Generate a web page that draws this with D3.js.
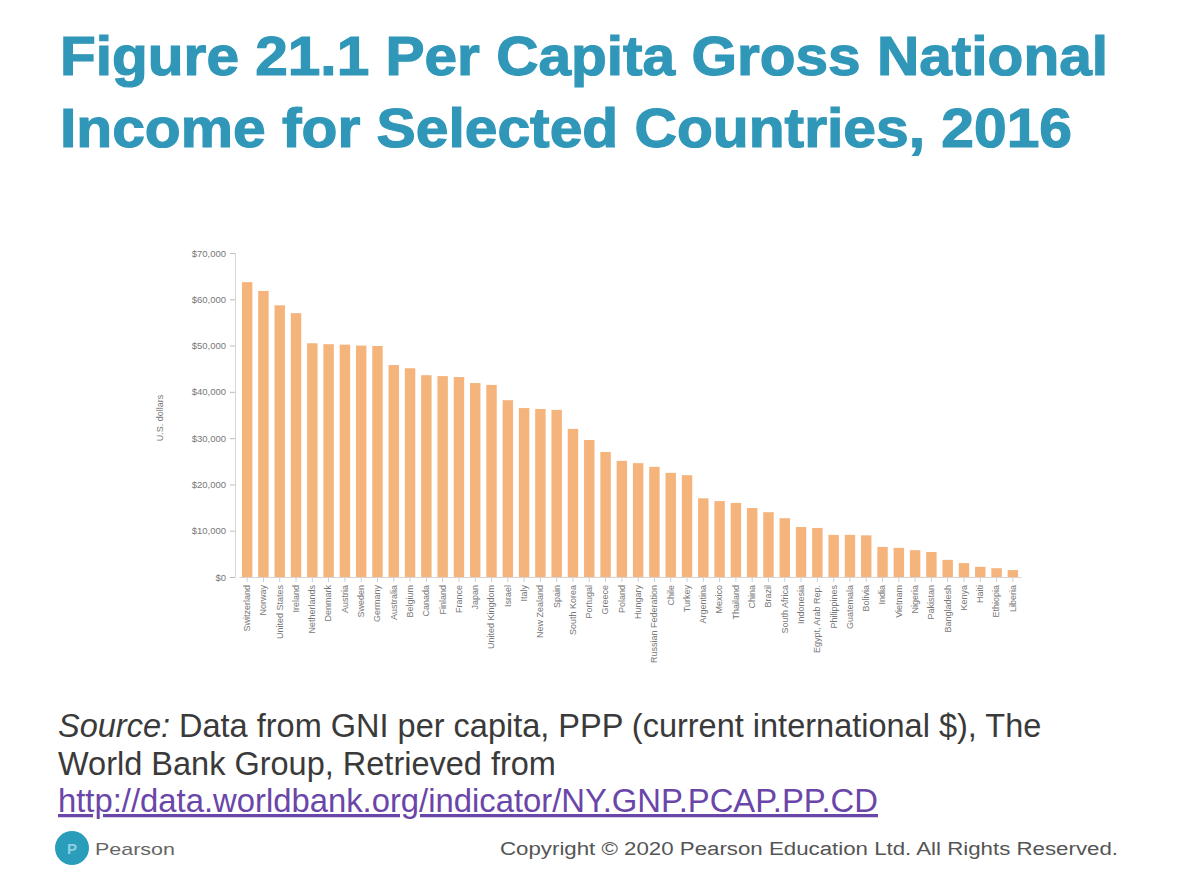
<!DOCTYPE html>
<html>
<head>
<meta charset="utf-8">
<script src="https://cdn.jsdelivr.net/npm/d3@7"></script>
<style>
  html, body { margin: 0; padding: 0; background: #fff; }
  svg { display: block; }
</style>
</head>
<body>
<svg id="chart" width="1180" height="885"></svg>
<script>
// ---- data ----
const countries = [
  "Switzerland", "Norway", "United States", "Ireland", "Netherlands", "Denmark",
  "Austria", "Sweden", "Germany", "Australia", "Belgium", "Canada",
  "Finland", "France", "Japan", "United Kingdom", "Israel", "Italy",
  "New Zealand", "Spain", "South Korea", "Portugal", "Greece", "Poland",
  "Hungary", "Russian Federation", "Chile", "Turkey", "Argentina", "Mexico",
  "Thailand", "China", "Brazil", "South Africa", "Indonesia", "Egypt, Arab Rep.",
  "Philippines", "Guatemala", "Bolivia", "India", "Vietnam", "Nigeria",
  "Pakistan", "Bangladesh", "Kenya", "Haiti", "Ethiopia", "Liberia"
];
const gniPerCapita = [
  63700, 61800, 58700, 57000, 50500, 50300,
  50200, 50000, 49900, 45800, 45100, 43600,
  43400, 43200, 41900, 41500, 38200, 36500,
  36300, 36100, 32000, 29600, 27000, 25100,
  24600, 23800, 22500, 22000, 17000, 16400,
  16000, 14900, 14000, 12700, 10800, 10600,
  9100, 9100, 9000, 6500, 6300, 5800,
  5400, 3700, 3000, 2200, 1900, 1500
];
const yTicks = [0, 10000, 20000, 30000, 40000, 50000, 60000, 70000];
const titleLines = ["Figure 21.1 Per Capita Gross National", "Income for Selected Countries, 2016"];
const sourceLines = ["Data from GNI per capita, PPP (current international $), The", "World Bank Group, Retrieved from"];
const sourceUrl = "http://data.worldbank.org/indicator/NY.GNP.PCAP.PP.CD";
const copyright = "Copyright \u00A9 2020 Pearson Education Ltd. All Rights Reserved.";

const data = countries.map((c, i) => ({ country: c, value: gniPerCapita[i] }));

const svg = d3.select("#chart");
const font = "'Liberation Sans', Arial, Helvetica, sans-serif";

// ---- title ----
const titleWidths = [1048, 1012];
svg.selectAll("text.title").data(titleLines).join("text")
  .attr("class", "title")
  .attr("x", 60)
  .attr("y", (d, i) => 75 + i * 72)
  .attr("font-family", font)
  .attr("font-weight", "bold")
  .attr("font-size", 55)
  .attr("fill", "#3097B8")
  .attr("stroke", "#3097B8")
  .attr("stroke-width", 1.2)
  .attr("textLength", (d, i) => titleWidths[i])
  .attr("lengthAdjust", "spacingAndGlyphs")
  .text(d => d);

// ---- chart ----
const x = d3.scaleBand()
  .domain(countries)
  .range([239, 1021])
  .paddingInner(0.36)
  .paddingOuter(0.18);

const y = d3.scaleLinear()
  .domain([0, 70000])
  .range([577, 253]);

const g = svg.append("g");

// y axis
const yAxis = d3.axisLeft(y)
  .tickValues(yTicks)
  .tickSize(5)
  .tickFormat(d => "$" + d3.format(",")(d));
const ya = g.append("g")
  .attr("transform", "translate(235,0)")
  .call(yAxis);
ya.select(".domain").attr("stroke", "#d6d6d6");
ya.selectAll(".tick line").attr("stroke", "#bdbdbd");
ya.selectAll(".tick text")
  .attr("font-family", font)
  .attr("font-size", 9.5)
  .attr("fill", "#777")
  .attr("x", -9);

// y label
g.append("text")
  .attr("transform", "translate(163,418) rotate(-90)")
  .attr("text-anchor", "middle")
  .attr("font-family", font)
  .attr("font-size", 9)
  .attr("fill", "#777")
  .text("U.S. dollars");

// bars
g.selectAll("rect.bar").data(data).join("rect")
  .attr("class", "bar")
  .attr("x", d => x(d.country))
  .attr("y", d => y(d.value))
  .attr("width", x.bandwidth())
  .attr("height", d => y(0) - y(d.value))
  .attr("fill", "#F4B47C");

// x axis
const xAxis = d3.axisBottom(x).tickSize(5).tickSizeOuter(0);
const xa = g.append("g")
  .attr("transform", "translate(0,577)")
  .call(xAxis);
xa.select(".domain").attr("stroke", "#d6d6d6");
xa.selectAll(".tick line").attr("stroke", "#cfcfcf");
xa.selectAll(".tick text")
  .attr("font-family", font)
  .attr("font-size", 9)
  .attr("fill", "#777")
  .attr("text-anchor", "end")
  .attr("dy", "0.32em")
  .attr("transform", "translate(0,8) rotate(-90)")
  .attr("x", 0)
  .attr("y", 0);

// ---- source ----
const src = svg.append("text")
  .attr("font-family", font)
  .attr("font-size", 32.5)
  .attr("fill", "#3a3a3a");
src.append("tspan").attr("x", 58).attr("y", 737)
  .attr("font-style", "italic").text("Source: ");
src.append("tspan").text(sourceLines[0]);
src.append("tspan").attr("x", 58).attr("y", 775).text(sourceLines[1]);

svg.append("text")
  .attr("x", 58).attr("y", 812)
  .attr("font-family", font)
  .attr("font-size", 32.5)
  .attr("fill", "#6A46A8")
  .attr("text-decoration", "underline")
  .attr("textLength", 820)
  .attr("lengthAdjust", "spacingAndGlyphs")
  .text(sourceUrl);

// ---- footer ----
svg.append("circle")
  .attr("cx", 72).attr("cy", 848).attr("r", 17)
  .attr("fill", "#2A9DBA");
svg.append("text")
  .attr("x", 72).attr("y", 854)
  .attr("text-anchor", "middle")
  .attr("font-family", font)
  .attr("font-size", 15)
  .attr("font-weight", "bold")
  .attr("fill", "#8fd0e0")
  .text("P");
svg.append("text")
  .attr("x", 95).attr("y", 855)
  .attr("font-family", font)
  .attr("font-size", 17)
  .attr("fill", "#666")
  .attr("textLength", 80)
  .attr("lengthAdjust", "spacingAndGlyphs")
  .text("Pearson");
svg.append("text")
  .attr("x", 500).attr("y", 855)
  .attr("font-family", font)
  .attr("font-size", 18)
  .attr("fill", "#555")
  .attr("textLength", 618)
  .attr("lengthAdjust", "spacingAndGlyphs")
  .text(copyright);
</script>
</body>
</html>
